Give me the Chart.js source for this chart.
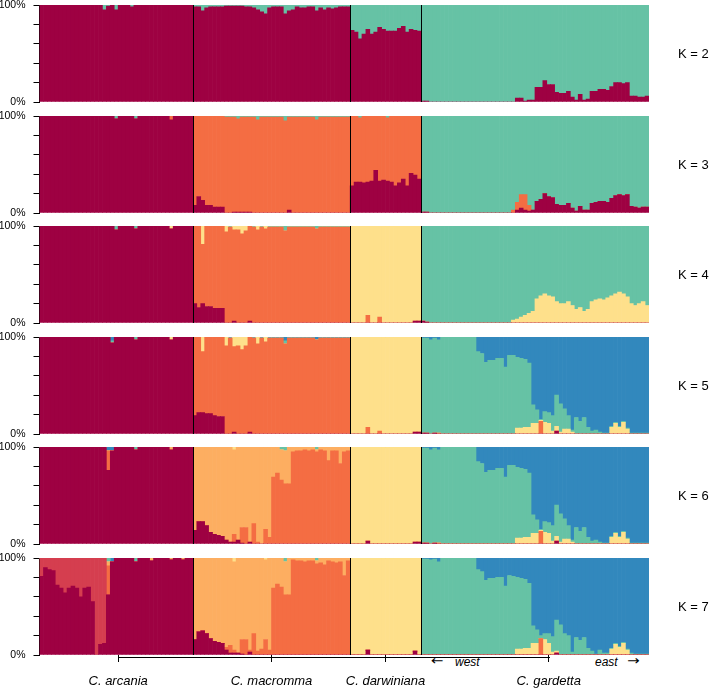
<!DOCTYPE html>
<html>
<head>
<meta charset="utf-8">
<title>Admixture proportions, K = 2 to 7</title>
<script src="https://cdn.jsdelivr.net/npm/chart.js@4.4.1/dist/chart.umd.min.js"></script>
<style>
  html, body { margin: 0; padding: 0; background: #fff; }
  #wrap { position: relative; width: 709px; height: 689px; overflow: hidden;
          font-family: "Liberation Sans", Arial, sans-serif; color: #000; }
  #wrap canvas { position: absolute; left: 0; }
  .klab { position: absolute; left: 678px; font-size: 13px; line-height: 16px; white-space: pre; }
  .dir { position: absolute; top: 655px; font-size: 12px; line-height: 14px; font-style: italic; white-space: pre; }
  .arrow { position: absolute; top: 654px; font-family: "DejaVu Sans", sans-serif; font-size: 13px;
           line-height: 14px; display: inline-block; transform: scaleX(1.15); transform-origin: left center; }
</style>
</head>
<body>
<div id="wrap">
  <span class="arrow" style="left:431px">&larr;</span>
  <span class="dir" style="left:455px">west</span>
  <span class="dir" style="left:595px">east</span>
  <span class="arrow" style="left:627px">&rarr;</span>
</div>
<script>
// individuals per species, left to right
const species = ['C. arcania', 'C. macromma', 'C. darwiniana', 'C. gardetta'];
const groupSizes = [39, 40, 18, 58];
const speciesTickAt = [19.5, 58.5, 87.5, 129];   // individual index under each species tick
const kValues = [2, 3, 4, 5, 6, 7];

const COL = {
  red: '#9e0142', lred: '#d53e4f', orange: '#f46d43', lorange: '#fdae61',
  yellow: '#fee08b', green: '#66c2a5', blue: '#3288bd'
};

// ---- membership (%) per cluster; rows: arcania | macromma | darwiniana | gardetta ----

// K = 2
const k2Red = [
  100,100,100,100,100,100,100,100,100,100, 100,100,100,100,100,100,95,99,100,95, 100,100,100,98,100,100,100,100,100,100, 100,100,100,100,100,100,100,100,100,
  98,98,94,97,98,98,98,98,99,99, 99,99,99,98,98,97,95,93,91,97, 98,98,98,91,94,95,98,97,97,98, 98,94,97,95,97,96,97,98,98,98,
  74,72,65,70,75,70,72,77,75,73, 73,73,76,78,72,75,74,73,
  1,1,0,0,0,0,0,0,0,0, 0,0,0,0,0,0,0,0,0,0, 0,0,0,0,4,4,1,2,2,15, 15,22,18,18,10,9,9,11,5,2, 8,2,3,11,11,13,13,12,16,20, 20,19,20,6,6,5,5,6
];

// K = 3
const k3Red = [
  100,100,100,100,100,100,100,100,100,100, 100,100,100,100,100,100,100,100,100,97, 100,100,100,100,97,100,100,100,100,100, 100,100,100,96,100,100,100,100,100,
  8,17,13,8,8,6,6,6,0,0, 1,1,1,1,1,0,0,0,0,0, 0,0,0,0,3,0,0,0,0,0, 0,0,0,0,0,0,0,0,0,0,
  28,32,32,31,32,33,44,33,34,33, 32,28,31,35,28,41,39,35,
  1,1,0,0,0,0,0,0,0,0, 0,0,0,0,0,0,0,0,0,0, 0,0,0,0,3,5,3,2,3,12, 14,20,17,16,9,8,8,10,5,2, 7,3,3,10,11,12,12,11,15,18, 19,18,19,7,6,5,6,6
];
const k3Orange = [
  0,0,0,0,0,0,0,0,0,0, 0,0,0,0,0,0,0,0,0,0, 0,0,0,0,0,0,0,0,0,0, 0,0,0,4,0,0,0,0,0,
  92,83,87,92,92,94,94,94,99,99, 98,96,98,98,98,99,96,99,99,99, 99,99,99,95,96,99,99,99,99,99, 99,96,99,99,99,99,99,99,99,99,
  72,68,66,69,68,67,56,67,66,65, 68,72,69,65,72,59,61,65,
  0,0,0,0,0,0,0,0,0,0, 0,0,0,0,0,0,0,0,0,0, 0,0,0,3,8,14,16,6,0,0, 0,0,0,0,0,0,0,0,0,0, 0,0,0,0,0,0,0,0,0,0, 0,0,0,0,0,0,0,0
];

// K = 4
const k4Red = [
  100,100,100,100,100,100,100,100,100,100, 100,100,100,100,100,100,100,100,100,96, 100,100,100,100,97,100,100,100,100,100, 100,100,100,97,100,100,100,100,100,
  20,16,20,17,17,15,15,15,0,0, 2,0,0,0,2,0,0,0,0,0, 0,0,0,0,0,0,0,0,0,0, 0,0,0,0,0,0,0,0,0,0,
  0,0,0,0,0,0,0,0,0,0, 0,0,0,0,0,0,2,2,
  2,1,0,0,0,0,0,0,0,0, 0,0,0,0,0,0,0,0,0,0, 0,0,0,0,0,0,0,0,0,0, 0,0,0,0,0,0,0,0,0,0, 0,0,0,0,0,0,0,0,0,0, 0,0,0,0,0,0,0,0
];
const k4Orange = [
  0,0,0,0,0,0,0,0,0,0, 0,0,0,0,0,0,0,0,0,0, 0,0,0,0,0,0,0,0,0,0, 0,0,0,0,0,0,0,0,0,
  80,84,61,83,83,85,85,85,94,99, 94,96,92,95,98,99,96,99,97,99, 99,99,99,95,99,99,99,99,99,99, 99,97,99,99,99,99,99,99,99,99,
  0,0,0,0,8,0,0,6,0,0, 0,0,0,0,0,0,0,0,
  0,0,0,0,0,0,0,0,0,0, 0,0,0,0,0,0,0,0,0,0, 0,0,0,0,0,0,0,0,0,0, 0,0,0,0,0,0,0,0,0,0, 0,0,0,0,0,0,0,0,0,0, 0,0,0,0,0,0,0,0
];
const k4Yellow = [
  0,0,0,0,0,0,0,0,0,0, 0,0,0,0,0,0,0,0,0,0, 0,0,0,0,0,0,0,0,0,0, 0,0,0,3,0,0,0,0,0,
  0,0,19,0,0,0,0,0,6,0, 4,4,8,5,0,0,4,0,3,0, 0,0,0,0,0,0,0,0,0,0, 0,0,0,0,0,0,0,0,0,0,
  100,100,100,100,92,100,100,94,100,100, 100,100,100,100,100,100,98,98,
  0,0,0,0,0,0,0,0,0,0, 0,0,0,0,0,0,0,0,0,0, 0,0,0,3,4,6,8,10,12,25, 28,30,28,27,22,20,20,22,18,14, 16,12,14,22,24,25,24,26,28,30, 32,30,27,20,18,20,22,18
];

// K = 5
const k5Red = [
  100,100,100,100,100,100,100,100,100,100, 100,100,100,100,100,100,100,100,94,100, 100,100,100,100,97,100,100,100,100,100, 100,100,100,97,100,100,100,100,100,
  19,22,22,21,21,19,18,18,0,0, 2,0,0,0,2,0,0,0,0,0, 0,0,0,0,0,0,0,0,0,0, 0,0,0,0,0,0,0,0,0,0,
  0,0,0,0,0,0,0,0,0,0, 0,0,0,0,0,0,2,2,
  1,1,0,1,0,0,0,0,0,0, 0,0,0,0,0,0,0,0,0,0, 0,0,0,0,0,0,0,0,0,0, 0,0,0,0,3,0,0,0,0,0, 0,0,0,0,0,0,0,0,0,0, 0,0,0,0,0,0,0,0
];
const k5Orange = [
  0,0,0,0,0,0,0,0,0,0, 0,0,0,0,0,0,0,0,0,0, 0,0,0,0,0,0,0,0,0,0, 0,0,0,0,0,0,0,0,0,
  81,78,63,79,79,81,82,82,91,99, 88,91,87,91,98,99,93,99,95,99, 99,99,99,93,99,99,99,99,99,99, 99,97,99,99,99,99,99,99,99,99,
  0,0,0,0,7,0,0,3,0,0, 0,0,0,0,0,0,0,0,
  0,0,0,0,1,0,0,0,0,0, 0,0,0,0,0,0,0,0,0,0, 0,0,0,0,0,0,0,0,0,0, 13,0,0,0,0,0,0,0,0,0, 0,0,0,0,0,0,0,0,0,0, 0,0,0,0,0,0,0,0
];
const k5Yellow = [
  0,0,0,0,0,0,0,0,0,0, 0,0,0,0,0,0,0,0,0,0, 0,0,0,0,0,0,0,0,0,0, 0,0,0,3,0,0,0,0,0,
  0,0,15,0,0,0,0,0,9,0, 10,9,13,9,0,0,7,0,5,0, 0,0,0,0,0,0,0,0,0,0, 0,0,0,0,0,0,0,0,0,0,
  100,100,100,100,93,100,100,97,100,100, 100,100,100,100,100,100,98,98,
  0,0,0,0,0,0,0,0,0,0, 0,0,0,0,0,0,0,0,0,0, 0,0,0,0,6,6,7,7,11,11, 1,12,11,3,5,2,5,5,2,0, 0,0,0,0,0,0,0,0,7,11, 7,12,5,0,0,0,0,0
];
const k5Green = [
  0,0,0,0,0,0,0,0,0,0, 0,0,0,0,0,0,0,0,2,0, 0,0,0,0,3,0,0,0,0,0, 0,0,0,0,0,0,0,0,0,
  0,0,0,0,0,0,0,0,0,0, 0,0,0,0,0,0,0,0,0,0, 0,0,0,3,0,0,0,0,0,0, 0,0,0,0,0,0,0,0,0,0,
  0,0,0,0,0,0,0,0,0,0, 0,0,0,0,0,0,0,0,
  98,98,97,98,96,100,100,100,100,100, 100,100,100,100,85,83,74,76,76,78, 78,69,81,81,73,72,70,66,19,14, 1,11,11,16,32,29,21,14,2,17, 13,17,7,3,4,2,1,1,1,1, 1,1,1,1,1,1,1,1
];

// K = 6
const k6Red = [
  100,100,100,100,100,100,100,100,100,100, 100,100,100,100,100,100,100,76,96,100, 100,100,100,100,97,100,100,100,100,100, 100,100,100,97,100,100,100,100,100,
  14,23,23,19,12,10,9,8,4,2, 2,4,1,0,2,0,0,0,0,0, 0,0,0,0,0,0,0,0,0,0, 0,0,0,0,0,0,0,0,0,0,
  0,0,0,0,3,0,0,0,0,0, 0,0,0,0,0,0,2,2,
  1,1,0,1,0,0,0,0,0,0, 0,0,0,0,0,0,0,0,0,0, 0,0,0,0,0,0,0,0,0,0, 0,0,0,0,3,0,0,0,0,0, 0,0,0,0,0,0,0,0,0,0, 0,0,0,0,0,0,0,0
];
const k6Orange = [
  0,0,0,0,0,0,0,0,0,0, 0,0,0,0,0,0,0,20,0,0, 0,0,0,0,0,0,0,0,0,0, 0,0,0,0,0,0,0,0,0,
  0,0,0,0,0,0,0,0,0,0, 8,0,16,17,0,21,2,0,15,7, 69,73,66,62,62,95,96,96,97,96, 97,95,97,96,86,96,96,83,95,96,
  0,0,0,0,0,0,0,0,0,0, 0,0,0,0,0,0,0,0,
  0,0,0,0,1,0,0,0,0,0, 0,0,0,0,0,0,0,0,0,0, 0,0,0,0,0,0,0,0,0,0, 13,0,0,0,0,0,0,0,0,0, 0,0,0,0,0,0,0,0,0,0, 0,0,0,0,0,0,0,0
];
const k6LOrange = [
  0,0,0,0,0,0,0,0,0,0, 0,0,0,0,0,0,0,0,0,0, 0,0,0,0,0,0,0,0,0,0, 0,0,0,3,0,0,0,0,0,
  86,77,77,81,88,90,91,92,96,98, 87,96,83,83,98,79,98,100,85,93, 31,27,31,34,38,5,4,4,3,4, 3,2,3,4,14,4,4,17,5,4,
  0,0,0,0,0,0,0,0,0,0, 0,0,0,0,0,0,0,0,
  0,0,0,0,0,0,0,0,0,0, 0,0,0,0,0,0,0,0,0,0, 0,0,0,0,0,0,0,0,0,0, 0,0,0,0,0,0,0,0,0,0, 0,0,0,0,0,0,0,0,0,0, 0,0,0,0,0,0,0,0
];
const k6Yellow = [
  0,0,0,0,0,0,0,0,0,0, 0,0,0,0,0,0,0,0,0,0, 0,0,0,0,0,0,0,0,0,0, 0,0,0,0,0,0,0,0,0,
  0,0,0,0,0,0,0,0,0,0, 3,0,0,0,0,0,0,0,0,0, 0,0,0,0,0,0,0,0,0,0, 0,0,0,0,0,0,0,0,0,0,
  100,100,100,100,97,100,100,100,100,100, 100,100,100,100,100,100,98,98,
  0,0,0,0,0,0,0,0,0,0, 0,0,0,0,0,0,0,0,0,0, 0,0,0,0,6,6,7,7,11,11, 1,12,11,3,5,2,5,5,2,0, 0,0,0,0,0,0,0,0,7,11, 7,12,5,0,0,0,0,0
];
const k6Green = [
  0,0,0,0,0,0,0,0,0,0, 0,0,0,0,0,0,0,0,0,0, 0,0,0,0,3,0,0,0,0,0, 0,0,0,0,0,0,0,0,0,
  0,0,0,0,0,0,0,0,0,0, 0,0,0,0,0,0,0,0,0,0, 0,0,3,4,0,0,0,0,0,0, 0,3,0,0,0,0,0,0,0,0,
  0,0,0,0,0,0,0,0,0,0, 0,0,0,0,0,0,0,0,
  98,98,97,98,96,100,100,100,100,100, 100,100,100,100,85,83,74,76,76,78, 78,69,81,81,73,72,70,66,19,14, 1,11,11,16,32,29,21,14,2,17, 13,17,7,3,4,2,1,1,1,1, 1,1,1,1,1,1,1,1
];

// K = 7
const k7Red = [
  81,90,88,87,72,69,64,69,71,69, 60,69,70,55,0,11,12,62,96,100, 100,100,100,100,96,100,100,100,97,100, 100,100,100,98,100,100,98,100,100,
  16,24,25,22,17,14,13,12,5,2, 2,2,1,0,3,0,0,0,0,0, 0,0,0,0,0,0,0,0,0,0, 0,0,0,0,0,0,0,0,0,0,
  0,0,0,0,5,0,0,0,0,0, 0,0,0,0,0,0,4,0,
  0,0,0,0,0,0,0,0,0,0, 0,0,0,0,0,0,0,0,0,0, 0,0,0,0,0,0,0,0,0,0, 0,0,0,0,2,0,0,0,0,0, 0,0,0,0,0,0,0,0,0,0, 0,0,0,0,0,0,0,0
];
const k7LRed = [
  19,10,12,13,28,31,36,31,29,31, 40,31,30,45,100,89,88,0,0,0, 0,0,0,0,0,0,0,0,0,0, 0,0,0,0,0,0,0,0,0,
  0,0,0,0,0,0,0,0,0,0, 0,0,0,0,0,0,0,0,0,0, 0,0,0,0,0,0,0,0,0,0, 0,0,0,0,0,0,0,0,0,0,
  0,0,0,0,0,0,0,0,0,0, 0,0,0,0,0,0,0,0,
  0,0,0,0,0,0,0,0,0,0, 0,0,0,0,0,0,0,0,0,0, 0,0,0,0,0,0,0,0,0,0, 0,0,0,0,0,0,0,0,0,0, 0,0,0,0,0,0,0,0,0,0, 0,0,0,0,0,0,0,0
];
const k7Orange = [
  0,0,0,0,0,0,0,0,0,0, 0,0,0,0,0,0,0,30,0,0, 0,0,0,0,0,0,0,0,0,0, 0,0,0,0,0,0,0,0,0,
  0,0,0,0,0,0,0,0,3,8, 3,0,15,16,2,22,4,6,16,5, 69,73,70,62,62,98,97,97,96,97, 97,94,95,93,97,96,95,96,82,97,
  0,0,0,0,0,0,0,0,0,0, 0,0,0,0,0,0,0,0,
  0,0,0,0,0,0,0,0,0,0, 0,0,0,0,0,0,0,0,0,0, 0,0,0,0,0,0,0,0,0,0, 17,0,0,0,0,0,0,0,0,0, 0,0,0,0,0,0,0,0,0,0, 0,0,0,0,0,0,0,0
];
const k7LOrange = [
  0,0,0,0,0,0,0,0,0,0, 0,0,0,0,0,0,0,4,0,0, 0,0,0,0,0,0,0,0,3,0, 0,0,0,2,0,0,2,0,0,
  84,76,75,78,83,86,87,88,92,90, 91,98,84,84,95,78,96,94,82,95, 31,27,30,34,38,2,3,3,4,3, 3,3,5,7,3,4,5,4,18,3,
  0,0,0,0,0,0,0,0,0,0, 0,0,0,0,0,0,0,0,
  0,0,0,0,0,0,0,0,0,0, 0,0,0,0,0,0,0,0,0,0, 0,0,0,0,0,0,0,0,0,0, 0,0,0,0,0,0,0,0,0,0, 0,0,0,0,0,0,0,0,0,0, 0,0,0,0,0,0,0,0
];
const k7Yellow = [
  0,0,0,0,0,0,0,0,0,0, 0,0,0,0,0,0,0,0,0,0, 0,0,0,0,0,0,0,0,0,0, 0,0,0,0,0,0,0,0,0,
  0,0,0,0,0,0,0,0,0,0, 4,0,0,0,0,0,0,0,2,0, 0,0,0,0,0,0,0,0,0,0, 0,0,0,0,0,0,0,0,0,0,
  100,100,100,100,95,100,100,100,100,100, 100,100,100,100,100,100,96,100,
  0,0,0,0,0,0,0,0,0,0, 0,0,0,0,0,0,0,0,0,0, 0,0,0,0,6,6,7,7,12,12, 0,16,12,3,2,0,0,0,0,0, 0,0,0,0,0,0,0,0,6,11, 8,12,5,0,0,0,0,0
];
const k7Green = [
  0,0,0,0,0,0,0,0,0,0, 0,0,0,0,0,0,0,4,0,0, 0,0,0,0,4,0,0,0,0,0, 0,0,0,0,0,0,0,0,0,
  0,0,0,0,0,0,0,0,0,0, 0,0,0,0,0,0,0,0,0,0, 0,0,0,4,0,0,0,0,0,0, 0,3,0,0,0,0,0,0,0,0,
  0,0,0,0,0,0,0,0,0,0, 0,0,0,0,0,0,0,0,
  99,99,98,99,96,100,100,100,100,100, 100,100,100,100,88,86,77,79,79,80, 80,71,82,81,74,73,71,67,18,14, 3,6,10,16,32,31,22,20,3,18, 15,18,7,4,1,5,2,2,1,1, 1,1,1,2,1,1,1,1
];

// top cluster of each K = what is left to 100 %
function remainder(...parts) {
  return parts[0].map((_, i) => Math.max(0, 100 - parts.reduce((s, p) => s + p[i], 0)));
}

const panels = [
  [[k2Red, COL.red], [remainder(k2Red), COL.green]],
  [[k3Red, COL.red], [k3Orange, COL.orange], [remainder(k3Red, k3Orange), COL.green]],
  [[k4Red, COL.red], [k4Orange, COL.orange], [k4Yellow, COL.yellow],
   [remainder(k4Red, k4Orange, k4Yellow), COL.green]],
  [[k5Red, COL.red], [k5Orange, COL.orange], [k5Yellow, COL.yellow], [k5Green, COL.green],
   [remainder(k5Red, k5Orange, k5Yellow, k5Green), COL.blue]],
  [[k6Red, COL.red], [k6Orange, COL.orange], [k6LOrange, COL.lorange], [k6Yellow, COL.yellow],
   [k6Green, COL.green], [remainder(k6Red, k6Orange, k6LOrange, k6Yellow, k6Green), COL.blue]],
  [[k7Red, COL.red], [k7LRed, COL.lred], [k7Orange, COL.orange], [k7LOrange, COL.lorange],
   [k7Yellow, COL.yellow], [k7Green, COL.green],
   [remainder(k7Red, k7LRed, k7Orange, k7LOrange, k7Yellow, k7Green), COL.blue]]
];

// individual labels
const individuals = [];
groupSizes.forEach((n, g) => { for (let i = 0; i < n; i++) individuals.push(species[g] + ' ' + (i + 1)); });

const FONT = '"Liberation Sans", Arial, sans-serif';
const PANEL_TOP = [5, 116, 226, 337, 447, 558];
const PANEL_H = 97;
const PAD = 8;
const AXIS_H = 35;

// species separators + bottom axis line
const groupLines = {
  id: 'groupLines',
  afterDatasetsDraw(chart) {
    const { ctx, chartArea, scales } = chart;
    const x = scales.x;
    ctx.save();
    ctx.strokeStyle = '#000';
    ctx.lineWidth = 1;
    let n = 0;
    for (let g = 0; g < groupSizes.length - 1; g++) {
      n += groupSizes[g];
      const px = Math.round((x.getPixelForValue(n - 1) + x.getPixelForValue(n)) / 2) + 0.5;
      ctx.beginPath();
      ctx.moveTo(px, chartArea.top);
      ctx.lineTo(px, chartArea.bottom);
      ctx.stroke();
    }
    const x2 = scales.x2;
    if (x2) {
      const y = Math.round(chartArea.bottom) + 2.5;
      ctx.beginPath();
      ctx.moveTo(Math.round(x2.getPixelForValue(speciesTickAt[0])), y);
      ctx.lineTo(Math.round(x2.getPixelForValue(speciesTickAt[speciesTickAt.length - 1])) + 1, y);
      ctx.stroke();
    }
    ctx.restore();
  }
};

const wrap = document.getElementById('wrap');

panels.forEach((series, p) => {
  const last = p === panels.length - 1;
  const canvas = document.createElement('canvas');
  const h = PAD + PANEL_H + (last ? AXIS_H : PAD);
  canvas.width = 709;
  canvas.height = h;
  canvas.style.top = (PANEL_TOP[p] - PAD) + 'px';
  canvas.style.width = '709px';
  canvas.style.height = h + 'px';
  wrap.appendChild(canvas);

  const lab = document.createElement('div');
  lab.className = 'klab';
  lab.textContent = 'K = ' + kValues[p];
  lab.style.top = (PANEL_TOP[p] + PANEL_H / 2 - 8) + 'px';
  wrap.appendChild(lab);

  const scales = {
    x: { stacked: true, display: false },
    y: {
      stacked: true, min: 0, max: 100, z: 1,
      ticks: {
        stepSize: 20, autoSkip: false, padding: 8, color: '#000',
        font: { family: FONT, size: 10.5 },
        callback: v => v === 100 ? '100%' : (v === 0 ? '0%' : '')
      },
      grid: { drawOnChartArea: false, tickLength: 6, color: '#000' },
      border: { color: '#000', width: 1 },
      afterFit(s) { s.width = 39.5; s.paddingTop = 0; s.paddingBottom = 0; }
    }
  };
  if (last) {
    scales.x2 = {
      type: 'linear', position: 'bottom', offset: false,
      min: -0.5, max: individuals.length - 0.5,
      afterBuildTicks(s) { s.ticks = speciesTickAt.map(v => ({ value: v })); },
      ticks: {
        autoSkip: false, maxRotation: 0, padding: 12, color: '#000',
        font: { family: FONT, size: 13, style: 'italic' },
        callback: (v, i) => species[i]
      },
      grid: { offset: false, drawOnChartArea: false, tickLength: 7, color: '#000' },
      border: { display: false },
      afterFit(s) { s.height = AXIS_H; s.paddingLeft = 0; s.paddingRight = 0; }
    };
  }

  new Chart(canvas, {
    type: 'bar',
    data: {
      labels: individuals,
      datasets: series.map(([values, color]) => ({
        data: values,
        backgroundColor: color,
        borderWidth: 0,
        barPercentage: 1,
        categoryPercentage: 1
      }))
    },
    options: {
      responsive: false,
      animation: false,
      layout: { padding: { top: PAD, bottom: last ? 0 : PAD, left: 0, right: 60 } },
      plugins: { legend: { display: false }, tooltip: { enabled: false } },
      scales
    },
    plugins: [groupLines]
  });
});
</script>
</body>
</html>
